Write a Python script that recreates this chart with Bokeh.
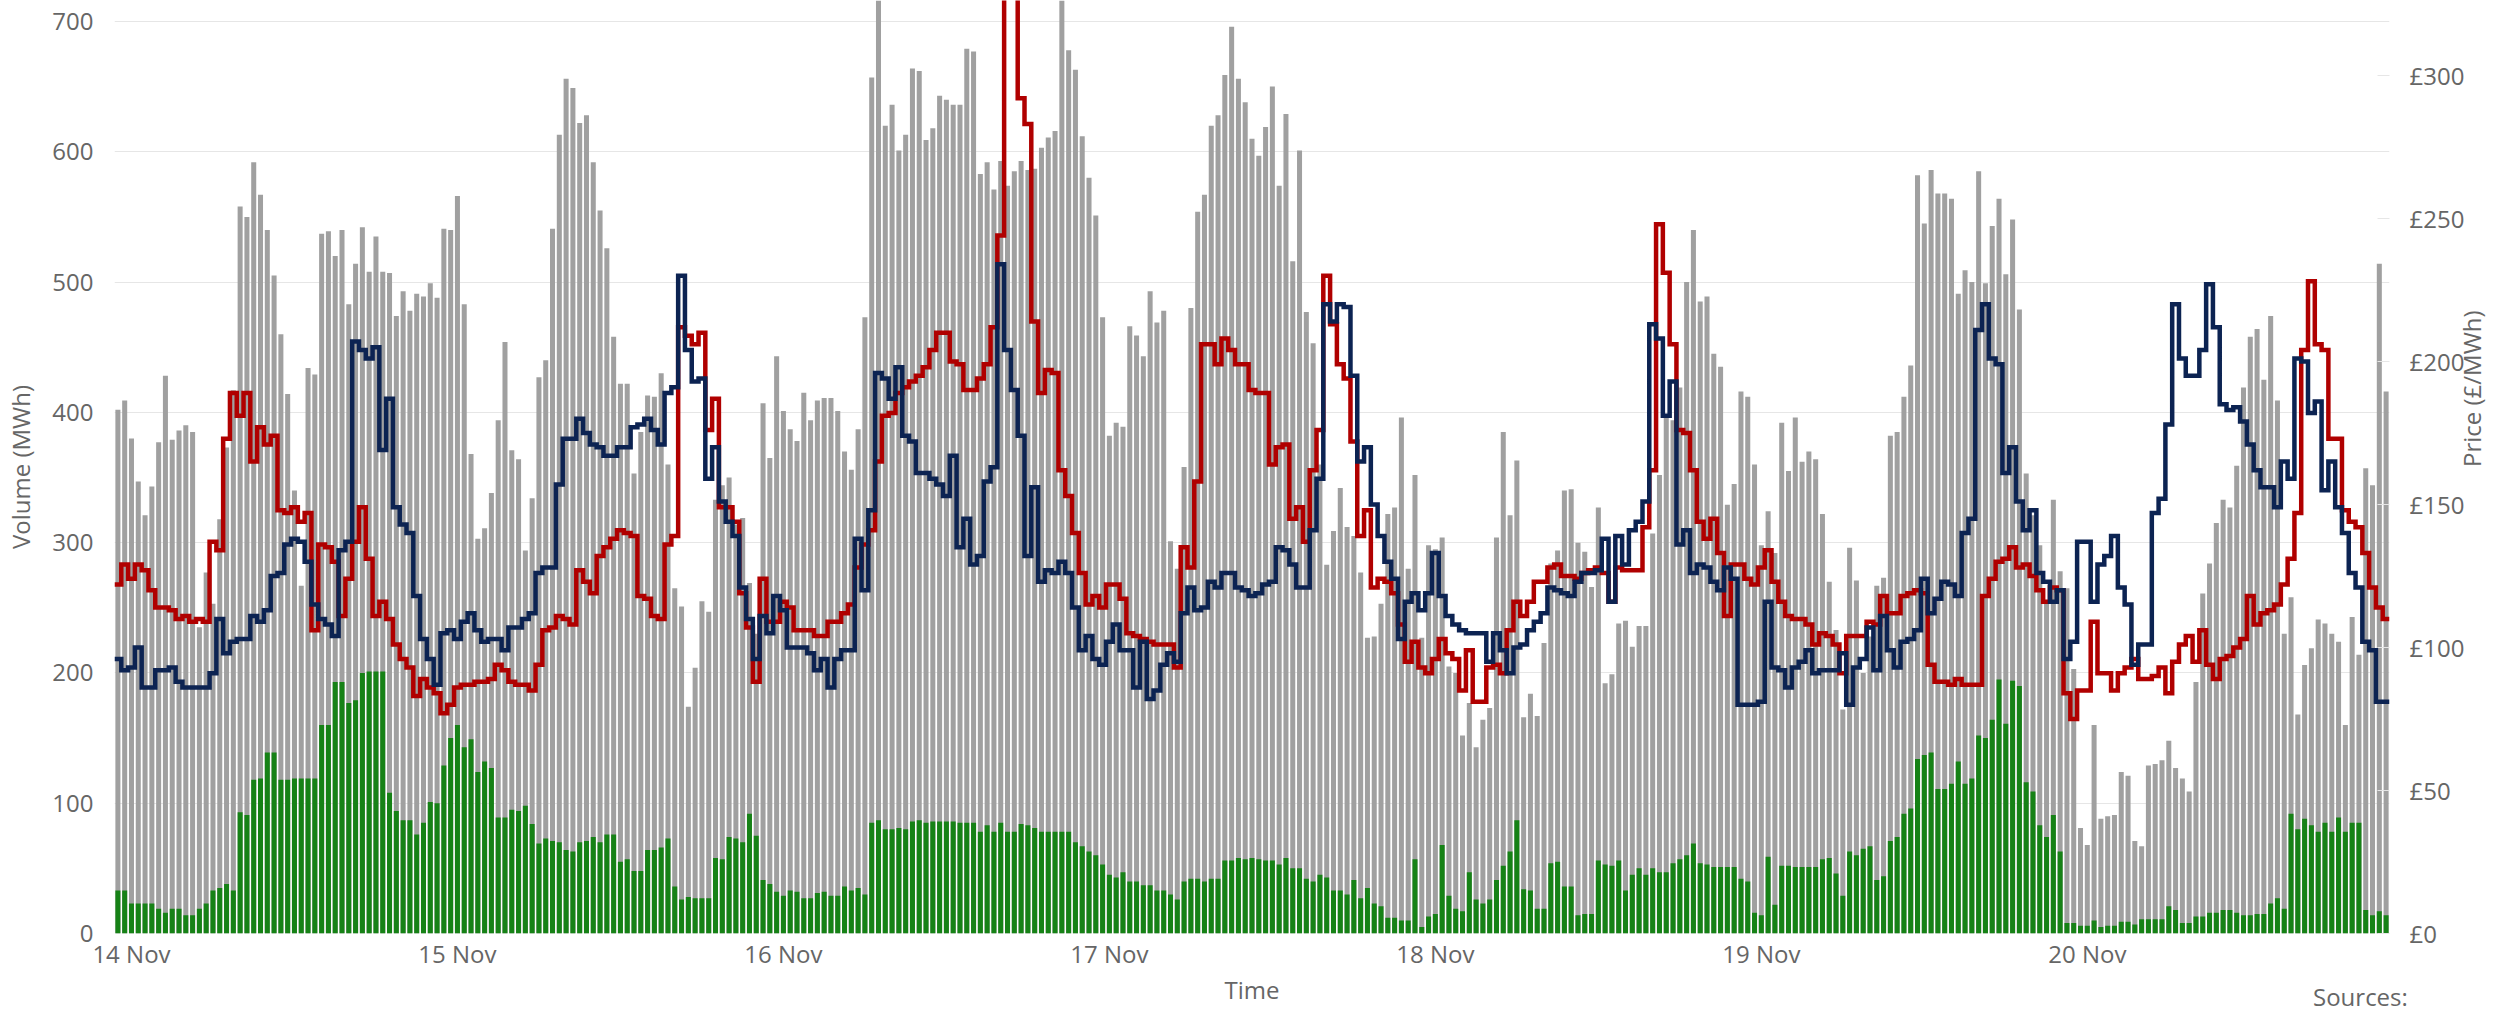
import math
from datetime import datetime, timedelta
from bokeh.plotting import figure
from bokeh.layouts import column
from bokeh.models import Range1d, LinearAxis, FixedTicker, PrintfTickFormatter, DatetimeTickFormatter, Div
from bokeh.embed import file_html
from bokeh.resources import INLINE

# ---------------- data (half-hourly, starting 13 Nov 23:00) ----------------
volume_total = [
    402, 409, 380, 347, 321, 343, 377, 428, 379, 386,
    390, 385, 235, 277, 253, 318, 373, 417, 558, 550,
    592, 567, 540, 505, 460, 414, 340, 267, 434, 429,
    537, 539, 520, 540, 483, 514, 542, 508, 535, 508,
    507, 474, 493, 478, 491, 489, 499, 488, 541, 540,
    566, 483, 368, 303, 311, 338, 394, 454, 371, 364,
    294, 334, 427, 440, 541, 613, 656, 649, 622, 628,
    592, 555, 526, 458, 422, 422, 353, 385, 413, 412,
    430, 360, 265, 251, 174, 204, 255, 247, 333, 344,
    350, 314, 319, 269, 230, 407, 365, 443, 401, 387,
    378, 415, 394, 409, 411, 411, 401, 370, 356, 387,
    473, 657, 720, 620, 636, 601, 613, 664, 662, 609,
    618, 643, 640, 636, 636, 679, 677, 583, 592, 571,
    593, 574, 585, 593, 586, 587, 603, 611, 616, 730,
    678, 663, 612, 580, 551, 473, 382, 392, 389, 466,
    459, 443, 493, 469, 478, 301, 280, 358, 480, 554,
    567, 620, 628, 659, 696, 656, 638, 610, 597, 619,
    650, 574, 629, 516, 601, 477, 453, 360, 283, 309,
    342, 312, 305, 277, 227, 228, 253, 322, 327, 396,
    280, 352, 227, 298, 295, 304, 205, 200, 152, 177,
    143, 164, 173, 304, 385, 321, 363, 166, 184, 167,
    223, 284, 294, 340, 341, 300, 293, 266, 327, 192,
    199, 238, 240, 220, 236, 236, 307, 352, 396, 394,
    419, 500, 540, 485, 489, 445, 435, 329, 345, 416,
    412, 360, 298, 324, 292, 392, 355, 396, 362, 370,
    364, 322, 270, 233, 172, 296, 271, 200, 228, 267,
    273, 382, 385, 412, 436, 582, 545, 586, 568, 568,
    564, 491, 509, 500, 585, 499, 543, 564, 506, 548,
    479, 353, 321, 298, 256, 333, 278, 265, 203, 81,
    68, 160, 88, 90, 91, 124, 121, 71, 67, 129,
    130, 133, 148, 127, 119, 109, 193, 261, 284, 315,
    333, 327, 359, 419, 458, 464, 425, 474, 409, 230,
    258, 168, 206, 219, 241, 238, 230, 224, 160, 243,
    214, 357, 344, 514, 416,
]

volume_green = [
    33, 33, 23, 23, 23, 23, 19, 16, 19, 19,
    14, 14, 19, 23, 33, 35, 38, 33, 93, 91,
    118, 119, 139, 139, 118, 118, 119, 119, 119, 119,
    160, 160, 193, 193, 177, 179, 200, 201, 201, 201,
    108, 94, 87, 87, 76, 85, 101, 100, 129, 150,
    160, 143, 149, 124, 132, 127, 89, 89, 95, 94,
    98, 84, 69, 73, 71, 70, 64, 63, 70, 71,
    74, 70, 76, 76, 55, 57, 48, 48, 64, 64,
    66, 73, 36, 26, 28, 27, 27, 27, 58, 57,
    74, 73, 70, 92, 75, 41, 38, 32, 29, 33,
    32, 27, 27, 31, 32, 29, 29, 36, 33, 35,
    30, 85, 87, 80, 80, 81, 80, 86, 87, 85,
    86, 86, 86, 86, 85, 85, 85, 78, 83, 78,
    85, 78, 78, 84, 83, 81, 78, 78, 78, 78,
    78, 70, 67, 63, 60, 53, 45, 43, 47, 40,
    40, 37, 37, 33, 33, 30, 26, 40, 42, 42,
    40, 42, 42, 56, 56, 58, 57, 58, 57, 56,
    56, 53, 58, 50, 50, 42, 40, 45, 43, 33,
    33, 30, 41, 27, 35, 23, 21, 12, 12, 10,
    10, 57, 5, 13, 15, 68, 29, 19, 17, 47,
    26, 23, 26, 41, 52, 63, 87, 34, 33, 19,
    19, 54, 55, 36, 36, 14, 15, 15, 56, 53,
    52, 56, 33, 45, 50, 45, 50, 47, 47, 54,
    57, 60, 69, 54, 53, 51, 51, 51, 51, 42,
    40, 16, 14, 59, 22, 52, 52, 51, 51, 51,
    51, 57, 58, 46, 29, 63, 60, 65, 67, 41,
    44, 71, 74, 92, 96, 134, 137, 139, 111, 111,
    115, 132, 115, 119, 152, 150, 164, 195, 161, 194,
    190, 116, 109, 83, 74, 91, 63, 8, 8, 6,
    6, 10, 5, 6, 6, 9, 9, 7, 11, 11,
    11, 11, 21, 18, 8, 8, 13, 13, 16, 16,
    18, 18, 16, 14, 14, 15, 15, 23, 27, 19,
    92, 80, 88, 83, 78, 85, 78, 89, 78, 85,
    85, 18, 14, 17, 14,
]

price_red = [
    122, 129, 124, 129, 127, 120, 114, 114, 113, 110,
    111, 109, 110, 109, 137, 134, 173, 189, 181, 189,
    165, 177, 171, 174, 148, 147, 149, 144, 147, 106,
    136, 135, 130, 111, 124, 137, 149, 131, 111, 116,
    110, 101, 96, 93, 83, 89, 86, 84, 77, 80,
    86, 87, 87, 88, 88, 89, 94, 92, 88, 87,
    87, 85, 94, 106, 107, 111, 110, 108, 127, 123,
    119, 132, 135, 138, 141, 140, 139, 118, 117, 111,
    110, 136, 139, 212, 209, 206, 210, 176, 187, 149,
    149, 144, 119, 107, 88, 124, 109, 109, 116, 114,
    106, 106, 106, 104, 104, 109, 109, 112, 115, 128,
    136, 141, 165, 181, 182, 189, 191, 193, 195, 198,
    204, 210, 210, 200, 199, 190, 190, 194, 199, 212,
    244, 330, 330, 292, 283, 214, 189, 197, 196, 162,
    153, 140, 126, 115, 118, 114, 122, 122, 117, 105,
    104, 103, 102, 101, 101, 101, 93, 135, 128, 158,
    206, 206, 199, 208, 204, 199, 199, 190, 189, 189,
    164, 170, 171, 145, 149, 137, 162, 176, 230, 213,
    199, 194, 172, 139, 148, 121, 124, 123, 119, 108,
    95, 102, 93, 91, 96, 103, 98, 96, 85, 99,
    81, 81, 93, 94, 91, 106, 116, 111, 116, 123,
    123, 128, 129, 125, 125, 124, 126, 127, 128, 126,
    116, 128, 127, 127, 127, 142, 162, 248, 231, 206,
    176, 175, 162, 144, 138, 145, 133, 111, 129, 129,
    124, 122, 128, 134, 123, 116, 111, 110, 110, 108,
    101, 105, 104, 101, 91, 104, 104, 104, 109, 108,
    118, 112, 112, 118, 119, 120, 119, 94, 88, 88,
    87, 89, 87, 87, 87, 118, 124, 130, 131, 135,
    128, 129, 125, 120, 116, 121, 120, 84, 75, 85,
    85, 109, 91, 91, 85, 91, 93, 96, 89, 89,
    90, 93, 84, 95, 101, 104, 95, 106, 94, 89,
    96, 97, 100, 103, 118, 108, 112, 113, 115, 122,
    131, 147, 204, 228, 206, 204, 173, 173, 148, 144,
    142, 133, 121, 114, 110,
]

price_navy = [
    96, 92, 93, 100, 86, 86, 92, 92, 93, 88,
    86, 86, 86, 86, 91, 110, 98, 102, 103, 103,
    111, 109, 113, 125, 126, 136, 138, 137, 130, 115,
    110, 108, 104, 134, 137, 207, 204, 201, 205, 169,
    187, 149, 143, 140, 118, 103, 96, 87, 105, 106,
    103, 109, 112, 106, 102, 103, 103, 99, 107, 107,
    110, 112, 126, 128, 128, 157, 173, 173, 180, 175,
    171, 170, 167, 167, 170, 170, 177, 178, 180, 176,
    171, 189, 191, 230, 204, 193, 194, 159, 170, 151,
    144, 139, 121, 110, 96, 111, 105, 118, 113, 100,
    100, 100, 98, 92, 96, 86, 96, 99, 99, 138,
    120, 148, 196, 194, 187, 198, 174, 172, 161, 161,
    159, 157, 153, 167, 135, 145, 129, 132, 158, 163,
    234, 204, 190, 174, 132, 156, 123, 127, 126, 130,
    126, 114, 99, 104, 96, 94, 102, 108, 99, 99,
    86, 102, 82, 85, 94, 98, 95, 112, 121, 113,
    114, 123, 121, 126, 126, 121, 120, 118, 119, 122,
    123, 135, 134, 129, 121, 121, 141, 159, 220, 214,
    220, 219, 195, 165, 170, 150, 139, 130, 124, 103,
    116, 119, 113, 119, 133, 118, 111, 108, 106, 105,
    105, 105, 95, 105, 99, 91, 100, 101, 106, 109,
    112, 121, 120, 119, 118, 123, 126, 126, 127, 138,
    116, 139, 129, 141, 144, 151, 213, 208, 181, 193,
    136, 141, 126, 129, 128, 123, 120, 128, 124, 80,
    80, 80, 81, 116, 93, 92, 86, 93, 95, 99,
    91, 92, 92, 92, 98, 80, 93, 96, 107, 92,
    111, 99, 93, 102, 103, 106, 124, 112, 117, 123,
    122, 118, 140, 145, 211, 220, 201, 199, 161, 170,
    151, 141, 148, 126, 123, 116, 120, 96, 102, 137,
    137, 116, 129, 132, 139, 121, 115, 94, 101, 101,
    147, 152, 178, 220, 201, 195, 195, 204, 227, 212,
    185, 183, 184, 179, 171, 162, 156, 156, 149, 165,
    159, 201, 200, 182, 186, 155, 165, 149, 140, 126,
    121, 102, 99, 81, 81,
]

day_ticks = [datetime(2023, 11, d) for d in range(14, 21)]
day_labels = ["14 Nov", "15 Nov", "16 Nov", "17 Nov", "18 Nov", "19 Nov", "20 Nov"]
volume_ticks = [0, 100, 200, 300, 400, 500, 600, 700]
price_ticks = [0, 50, 100, 150, 200, 250, 300]

# ---------------- derived ----------------
n = min(len(volume_total), len(volume_green), len(price_red), len(price_navy))
start = datetime(2023, 11, 13, 23, 0)
half_hour = timedelta(minutes=30)
times = [start + i * half_hour for i in range(n)]
EPOCH = datetime(1970, 1, 1)


def ms(dt):
    return (dt - EPOCH).total_seconds() * 1000.0


x_lo = ms(times[0] - half_hour / 2)
x_hi = ms(times[-1] + half_hour / 2)
bar_w = 0.74 * 30 * 60 * 1000

FONT = "Open Sans"
TXT = "#666666"

p = figure(width=2519, height=1013, x_axis_type="datetime",
           x_range=Range1d(x_lo, x_hi), y_range=Range1d(0, 716.1),
           output_backend="svg", toolbar_location=None,
           min_border_left=114, min_border_right=130,
           min_border_top=0, min_border_bottom=80)
p.extra_y_ranges = {"price": Range1d(0, 326.2)}
p.outline_line_color = None
p.background_fill_color = "white"
p.border_fill_color = None

p.vbar(x=times, width=bar_w, top=volume_total[:n], bottom=0,
       fill_color="#a0a0a0", line_color=None)
p.vbar(x=times, width=bar_w, top=volume_green[:n], bottom=0,
       fill_color="#168216", line_color=None)

step_x = [t - half_hour / 2 for t in times] + [times[-1] + half_hour / 2]
red_y = list(price_red[:n]) + [price_red[n - 1]]
navy_y = list(price_navy[:n]) + [price_navy[n - 1]]
p.step(x=step_x, y=red_y, mode="after", y_range_name="price",
       line_color="#b00000", line_width=4.5, line_join="miter")
p.step(x=step_x, y=navy_y, mode="after", y_range_name="price",
       line_color="#0c2352", line_width=4.5, line_join="miter")

# grid
p.xgrid.grid_line_color = None
p.ygrid.ticker = FixedTicker(ticks=volume_ticks)
p.ygrid.grid_line_color = "#e6e6e6"
p.ygrid.grid_line_width = 1


def style(ax):
    ax.axis_line_color = None
    ax.minor_tick_line_color = None
    ax.minor_tick_out = 0
    ax.minor_tick_in = 0
    ax.major_tick_out = 0
    ax.major_tick_in = 0
    ax.major_label_text_font = FONT
    ax.major_label_text_font_size = "24px"
    ax.major_label_text_color = TXT
    ax.axis_label_text_font = FONT
    ax.axis_label_text_font_size = "24px"
    ax.axis_label_text_font_style = "normal"
    ax.axis_label_text_color = TXT


# x axis
xa = p.xaxis[0]
style(xa)
xa.major_tick_line_color = None
xa.ticker = FixedTicker(ticks=[ms(d) for d in day_ticks])
xa.formatter = DatetimeTickFormatter(days="%d %b", hours="%d %b", months="%d %b")
xa.major_label_overrides = {ms(d): lab for d, lab in zip(day_ticks, day_labels)}
xa.major_label_standoff = 3
xa.axis_label = "Time"
xa.axis_label_standoff = 0

# left axis
ya = p.yaxis[0]
style(ya)
ya.major_tick_line_color = None
ya.ticker = FixedTicker(ticks=volume_ticks)
ya.major_label_standoff = 21
ya.axis_label = "Volume (MWh)"
ya.axis_label_standoff = 12

# right axis
ra = LinearAxis(y_range_name="price", ticker=FixedTicker(ticks=price_ticks),
                formatter=PrintfTickFormatter(format="£%d"))
style(ra)
ra.major_tick_in = 12
ra.major_tick_out = 0
ra.major_tick_line_color = "#e6e6e6"
ra.major_label_standoff = 20
ra.axis_label = "Price (£/MWh)"
ra.axis_label_standoff = 4
if hasattr(ra, "axis_label_orientation"):
    ra.axis_label_orientation = math.pi / 2
p.add_layout(ra, "right")

# credits text in the bottom-right corner of the page (overlapping the canvas border)
sources = Div(text="Sources:", width=140, height=33, margin=(-33, 0, 0, 2313),
              styles={"font-family": "Open Sans", "font-size": "24px",
                      "color": TXT, "line-height": "33px", "overflow": "hidden",
                      "white-space": "nowrap", "position": "relative",
                      "z-index": "5"})

layout = column(p, sources, spacing=0)
open("out.html", "w").write(file_html(layout, INLINE))
